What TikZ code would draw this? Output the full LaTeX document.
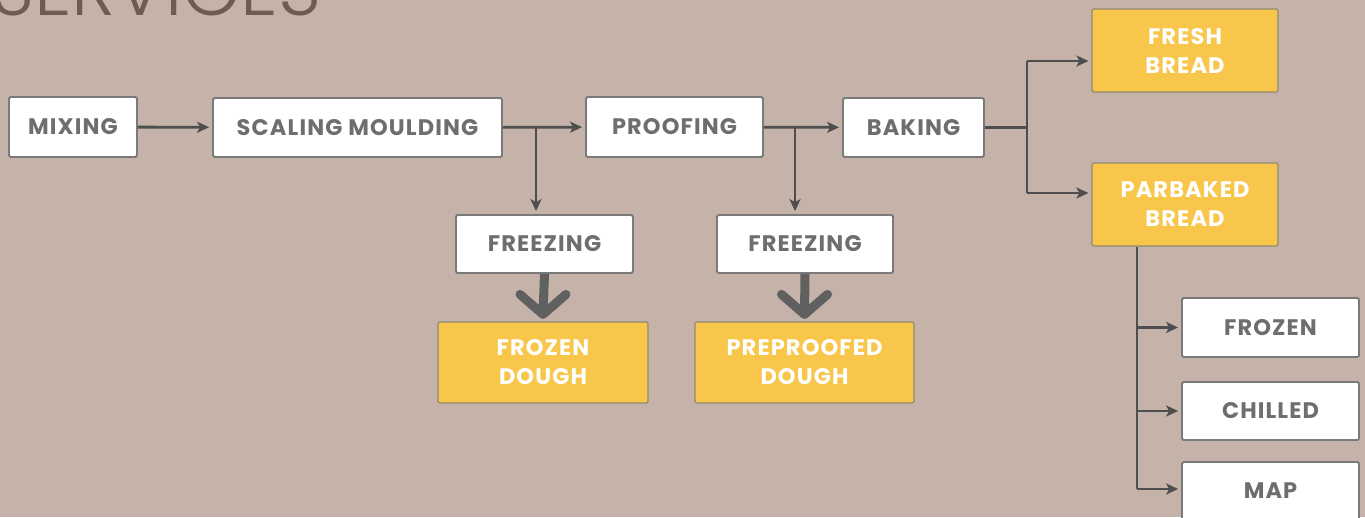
\documentclass[tikz,border=0pt]{standalone}
\usepackage{fontspec}
\setmainfont{Poppins}
\newfontfamily\titlefont{Poppins Light}
\newfontfamily\boxfont{Poppins}[LetterSpace=5]
\usetikzlibrary{arrows.meta}
\definecolor{bgc}{HTML}{C5B3A9}
\definecolor{yel}{HTML}{F8C64A}
\definecolor{lnc}{HTML}{4E4E4E}
\definecolor{txc}{HTML}{6E6E6E}
\definecolor{bdc}{HTML}{7A7A7A}
\definecolor{ttc}{HTML}{6E5D4F}
\tikzset{
  x=1pt, y=-1pt,
  wbox/.style={draw=bdc, line width=1.8pt, fill=white, rounded corners=1.5pt, text=txc,
    font=\boxfont\fontsize{22.5}{22}\selectfont\bfseries, inner sep=0pt, align=center},
  ybox/.style={draw=bdc!80!yel, line width=1.2pt, fill=yel, rounded corners=1.5pt, text=white,
    font=\boxfont\fontsize{22.5}{29}\selectfont\bfseries, inner sep=0pt, align=center},
  arr/.style={draw=lnc, line width=2.8pt, -{Stealth[length=12pt,width=11pt,inset=3pt]}, shorten >=3pt},
  ln/.style={draw=lnc, line width=2.8pt},
  big/.style={draw=lnc!90!white, line width=9pt},
}
\begin{document}
\begin{tikzpicture}
\fill[bgc] (0,0) rectangle (1365,517);
\useasboundingbox (0,0) rectangle (1365,517);
\begin{scope}
\clip (0,0) rectangle (1365,517);
\node[anchor=base west, text=ttc, font=\titlefont\fontsize{75}{80}\selectfont, inner sep=0pt] (title) at (-9,15) {SERVICES};
\end{scope}

\node[wbox, minimum width=128, minimum height=60] (mix) at (73,127) {MIXING};
\node[wbox, minimum width=289, minimum height=59] (scal) at (357.5,127.5) {SCALING MOULDING};
\node[wbox, minimum width=177, minimum height=60] (proof) at (674.5,127) {PROOFING};
\node[wbox, minimum width=141, minimum height=59] (bake) at (913.5,127.5) {BAKING};
\node[ybox, minimum width=186, minimum height=83] (fresh) at (1185,50.5) {FRESH\\BREAD};
\node[ybox, minimum width=186, minimum height=83] (parb) at (1185,204.5) {PARBAKED\\BREAD};
\node[wbox, minimum width=177, minimum height=58] (frz1) at (544.5,244) {FREEZING};
\node[wbox, minimum width=176, minimum height=58] (frz2) at (805,244) {FREEZING};
\node[ybox, minimum width=210, minimum height=81] (fd) at (543,362.5) {FROZEN\\DOUGH};
\node[ybox, minimum width=219, minimum height=81] (pd) at (804.5,362.5) {PREPROOFED\\DOUGH};
\node[wbox, minimum width=177, minimum height=59] (frozen) at (1270.5,327.5) {FROZEN};
\node[wbox, minimum width=177, minimum height=58] (chill) at (1270.5,411) {CHILLED};
\node[wbox, minimum width=177, minimum height=58] (map) at (1270.5,491) {MAP};

% main line
\draw[arr] (mix) -- (scal);
\draw[arr] (scal) -- (proof);
\draw[arr] (proof) -- (bake);
\coordinate (b1) at (536,128);
\coordinate (b2) at (795,128);
\draw[arr] (b1) -- (b1 |- frz1.north);
\draw[arr] (b2) -- (b2 |- frz2.north);

% baking split
\coordinate (j0) at (1027,127.5);
\coordinate (ja) at (1027,61);
\coordinate (jb) at (1027,193);
\draw[ln] (bake.east) -- (j0);
\draw[ln] (ja) -- (jb);
\draw[arr] (ja) -- (ja -| fresh.west);
\draw[arr] (jb) -- (jb -| parb.west);

% parbaked split
\coordinate (p0) at (1137,246);
\coordinate (p1) at (1137,327.5);
\coordinate (p2) at (1137,411);
\coordinate (p3) at (1137,489);
\draw[ln] (parb.south -| p0) -- (p3);
\draw[arr] (p1) -- (p1 -| frozen.west);
\draw[arr] (p2) -- (p2 -| chill.west);
\draw[arr] (p3) -- (p3 -| map.west);

% thick arrows
\foreach \s/\t in {frz1/fd, frz2/pd}{
  \draw[big] (\s.south) -- ([yshift=7pt]\t.north);
  \draw[big, line cap=round, line join=round] ([xshift=-23pt,yshift=27pt]\t.north) -- ([yshift=7pt]\t.north) -- ([xshift=23pt,yshift=27pt]\t.north);
}
\end{tikzpicture}
\end{document}
